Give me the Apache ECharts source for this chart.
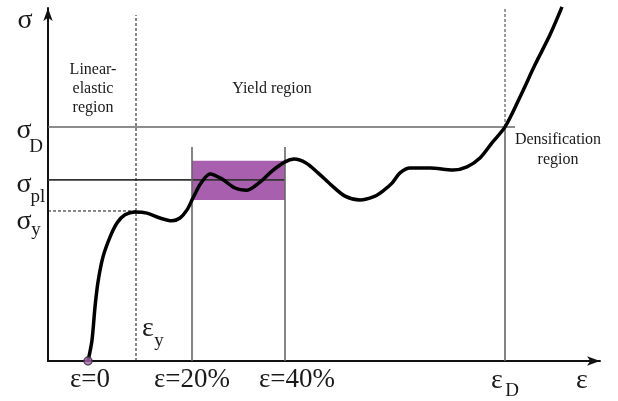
<!DOCTYPE html>
<html>
<head>
<meta charset="utf-8">
<script src="https://cdn.jsdelivr.net/npm/echarts@6/dist/echarts.min.js"></script>
<style>
html,body{margin:0;padding:0;background:#fff;}
#chart{width:618px;height:401px;}
</style>
</head>
<body>
<div id="chart"></div>
<script>
// ---- data (schematic units: strain on x, stress on y) ----
const strain = [0, 0.8, 1.4, 2.0, 3.0, 4.4, 5.8, 7.4, 9.4, 11.8, 14.4, 16.8, 18.4, 19.8, 21.0, 22.6, 24.4, 26.8, 29.4, 31.8, 34.4, 36.8, 39.4, 41.2, 43.6, 46.0, 48.6, 51.4, 54.4, 57.4, 59.2, 60.8, 62.4, 64.4, 68.4, 73.0, 75.8, 78.4, 80.8, 83.4, 86.4, 89.4, 92.4, 94.8];
const stress = [0, 5.9, 15.3, 22.4, 29.5, 35.1, 39.1, 41.4, 42.2, 41.9, 40.5, 39.7, 40.5, 42.8, 46.2, 50.4, 53.0, 51.6, 49.0, 48.4, 50.7, 53.8, 56.4, 57.2, 56.1, 53.3, 49.9, 46.7, 45.6, 46.7, 48.4, 50.4, 53.3, 54.7, 54.7, 54.1, 55.0, 57.5, 61.8, 66.3, 74.8, 83.9, 92.4, 100.3];

// reference strains
const epsYield = 9.6, eps20 = 20.8, eps40 = 39.4, epsD = 83.4;
// reference stresses
const sigD = 66.3, sigPl = 51.3, sigY = 42.5;
// plateau band and gauge line tops
const bandHigh = 56.7, bandLow = 45.6, gaugeTop = 60.6;
const axisTop = 100, xEnd = 102.4, xStart = -8;

// text labels
const xTickLabels = ['ε=0', 'ε=20%', 'ε=40%'];
const regionLabels = ['Linear-\nelastic\nregion', 'Yield region', 'Densification\nregion'];

const SERIF = '"Liberation Serif", "Times New Roman", serif';
const curve = strain.map((x, i) => [x, stress[i]]);

function seg(data, color, width, type) {
  return {
    type: 'line', data: data, symbol: 'none', silent: true, clip: false,
    lineStyle: { color: color, width: width, type: type || 'solid' }, z: 2
  };
}

const chart = echarts.init(document.getElementById('chart'));
chart.setOption({
  animation: false,
  backgroundColor: '#fff',
  grid: { left: 48, right: 18, top: 8, bottom: 40 },
  xAxis: {
    type: 'value', min: xStart, max: xEnd,
    axisLine: { show: true, onZero: false, lineStyle: { color: '#111', width: 2 }, symbol: ['none', 'arrow'], symbolSize: [7, 13] },
    axisTick: { show: false }, axisLabel: { show: false }, splitLine: { show: false }
  },
  yAxis: {
    type: 'value', min: 0, max: axisTop,
    axisLine: { show: true, onZero: false, lineStyle: { color: '#111', width: 2 }, symbol: ['none', 'arrow'], symbolSize: [7, 13] },
    axisTick: { show: false }, axisLabel: { show: false }, splitLine: { show: false }
  },
  series: [
    {
      type: 'line', data: [], silent: true,
      markArea: {
        silent: true,
        itemStyle: { color: '#a85fae' },
        data: [[{ coord: [eps20, bandHigh] }, { coord: [eps40, bandLow] }]]
      }
    },
    seg([[xStart, sigD], [epsD + 2, sigD]], '#666', 1.6),
    seg([[xStart, sigPl], [eps40, sigPl]], '#333', 1.6),
    seg([[xStart, sigY], [epsYield, sigY]], '#111', 1, [3, 2]),
    seg([[epsYield, 0], [epsYield, 98]], '#111', 1, [3, 2]),
    seg([[eps20, 0], [eps20, gaugeTop]], '#666', 1.6),
    seg([[eps40, 0], [eps40, gaugeTop]], '#666', 1.6),
    seg([[epsD, 0], [epsD, sigD]], '#666', 1.6),
    seg([[epsD, sigD], [epsD, axisTop]], '#333', 1, [3, 2]),
    {
      type: 'line', data: curve, smooth: 0.3, symbol: 'none', silent: true, clip: false, z: 5,
      lineStyle: { color: '#000', width: 3.5 }
    },
    {
      type: 'scatter', data: [[0, 0]], symbol: 'circle', symbolSize: 8, z: 6, silent: true,
      itemStyle: { color: '#a85fae', borderColor: '#333', borderWidth: 1.5 }
    }
  ]
});

// annotation anchors (data coordinates)
const place = [
  { t: 'σ', at: [-12.6, 96.3], s: 28 },
  { t: 'σ', at: [-12.8, 65.2], s: 28 }, { t: 'D', at: [-10.4, 60.6], s: 19 },
  { t: 'σ', at: [-12.8, 49.9], s: 28 }, { t: 'pl', at: [-10.0, 46.5], s: 19 },
  { t: 'σ', at: [-12.8, 39.4], s: 28 }, { t: 'y', at: [-10.4, 37.0], s: 19 },
  { t: xTickLabels[0], at: [0.4, -5.4], s: 27 },
  { t: xTickLabels[1], at: [eps20, -5.4], s: 27 },
  { t: xTickLabels[2], at: [41.8, -5.4], s: 27 },
  { t: 'ε', at: [81.8, -5.7], s: 28 }, { t: 'D', at: [84.8, -8.6], s: 19 },
  { t: 'ε', at: [98.8, -5.7], s: 28 },
  { t: 'ε', at: [12.0, 9.1], s: 28 }, { t: 'y', at: [14.2, 5.8], s: 19 },
  { t: regionLabels[0], at: [1.0, 77.1], s: 16, lh: 19 },
  { t: regionLabels[1], at: [36.8, 77.1], s: 16 },
  { t: regionLabels[2], at: [94.0, 59.8], s: 16, lh: 20 }
];
const graphics = place.map(p => {
  const px = chart.convertToPixel({ gridIndex: 0 }, p.at);
  return {
    type: 'text', x: px[0], y: px[1], z: 10, silent: true,
    style: {
      text: p.t, fontFamily: SERIF, fontSize: p.s, fill: '#1a1a1a',
      align: 'center', verticalAlign: 'middle', lineHeight: p.lh || p.s
    }
  };
});
chart.setOption({ graphic: graphics });
</script>
</body>
</html>
